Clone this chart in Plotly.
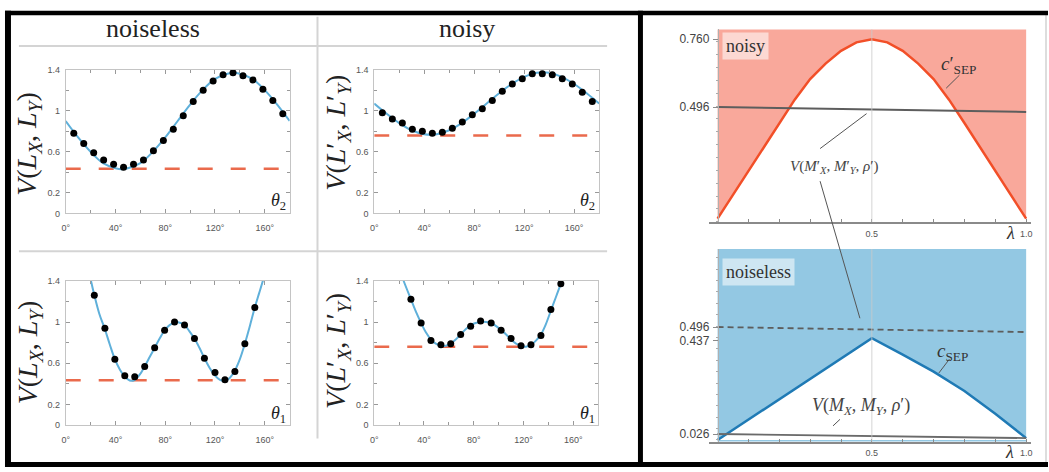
import plotly.graph_objects as go

W, H = 1049, 472

# ---------------- data ----------------
# left panel: V versus measurement angle
theta_dots_top = [6.5, 14.5, 22.5, 30.5, 38.5, 46.5, 54.5, 62.5, 70.5, 78.5, 86.5,
                  94.5, 102.5, 110.5, 118.5, 126.5, 134.5, 142.5, 150.5, 158.5, 166.5, 174.5]
noiseless_t2_dots = [0.78, 0.68, 0.59, 0.52, 0.48, 0.45, 0.48, 0.52, 0.61, 0.71, 0.82,
                     0.95, 1.09, 1.20, 1.29, 1.35, 1.37, 1.34, 1.30, 1.21, 1.10, 0.97]
noisy_t2_dots = [0.98, 0.92, 0.88, 0.82, 0.80, 0.78, 0.79, 0.83, 0.89, 0.96, 1.02,
                 1.10, 1.19, 1.26, 1.31, 1.36, 1.36, 1.35, 1.31, 1.26, 1.18, 1.09]
theta_curve_top = [0, 10, 20, 30, 40, 45, 50, 60, 70, 80, 90, 100, 110, 120, 130, 135,
                   140, 150, 160, 170, 180]
noiseless_t2_curve = [0.90, 0.74, 0.60, 0.49, 0.44, 0.43, 0.44, 0.49, 0.60, 0.74, 0.90,
                      1.06, 1.20, 1.31, 1.36, 1.37, 1.36, 1.31, 1.20, 1.06, 0.90]
noisy_t2_curve = [1.07, 0.97, 0.88, 0.81, 0.77, 0.765, 0.77, 0.81, 0.88, 0.97, 1.07,
                  1.17, 1.26, 1.33, 1.37, 1.375, 1.37, 1.33, 1.26, 1.17, 1.07]

theta_dots_bl = [23, 31.5, 39.5, 47.5, 55.5, 63.5, 71.5, 79.5, 87.5, 95.5, 103.5,
                 111.5, 120, 128, 136, 144, 152]
noiseless_t1_dots = [1.26, 0.94, 0.64, 0.48, 0.47, 0.57, 0.75, 0.92, 1.00, 0.97, 0.84,
                     0.65, 0.51, 0.44, 0.52, 0.79, 1.14]
theta_curve_bl = [17, 20.3, 23, 27, 31.5, 35.5, 39.5, 43.5, 47.5, 52.5, 55.5, 59.5, 63.5,
                  67.5, 71.5, 75.5, 79.5, 83.5, 88.5, 92.5, 95.5, 99.5, 103.5, 107.5,
                  111.5, 115.5, 120, 124, 128.5, 132, 136, 140, 144, 148, 152, 155.5,
                  158.5, 162]
noiseless_t1_curve = [1.58, 1.40, 1.26, 1.08, 0.93, 0.78, 0.64, 0.54, 0.47, 0.43, 0.44,
                      0.49, 0.57, 0.66, 0.75, 0.84, 0.92, 0.97, 1.00, 0.99, 0.97, 0.91,
                      0.84, 0.75, 0.65, 0.56, 0.48, 0.44, 0.43, 0.46, 0.53, 0.64, 0.79,
                      0.96, 1.14, 1.28, 1.40, 1.55]

theta_dots_br = [29.5, 37.7, 45.6, 53.6, 61.5, 69.5, 77.5, 85.5, 94, 102, 110, 118,
                 126, 134, 142, 150]
noisy_t1_dots = [1.22, 0.99, 0.82, 0.78, 0.79, 0.88, 0.96, 1.01, 0.99, 0.92, 0.84, 0.77,
                 0.78, 0.87, 1.12, 1.37]
theta_curve_br = [20, 23.6, 29.5, 33.5, 37.7, 41.5, 45.6, 49.5, 53.6, 57.5, 61.5, 65.5,
                  69.5, 73.5, 77.5, 81.5, 85.5, 90, 94, 98, 102, 106, 110, 114, 118,
                  122, 126, 130, 134, 138, 142, 146, 150, 153]
noisy_t1_curve = [1.52, 1.40, 1.22, 1.10, 0.99, 0.90, 0.83, 0.79, 0.77, 0.77, 0.79, 0.83,
                  0.88, 0.93, 0.97, 0.99, 1.00, 1.00, 0.99, 0.96, 0.92, 0.88, 0.83, 0.79,
                  0.77, 0.76, 0.78, 0.82, 0.88, 0.98, 1.11, 1.24, 1.37, 1.47]

min_noiseless = 0.435
min_noisy = 0.76
dash_span = [0, 176]

theta_ticks = [0, 40, 80, 120, 160]
theta_ticktext = ["0°", "40°", "80°", "120°", "160°"]
v_ticks = [0, 0.2, 0.6, 1.0, 1.4]
v_ticktext = ["0", "0.2", "0.6", "1", "1.4"]

# right panel: versus lambda
lam = [0, 0.05, 0.1, 0.15, 0.2, 0.25, 0.3, 0.35, 0.4, 0.45, 0.5,
       0.55, 0.6, 0.65, 0.7, 0.75, 0.8, 0.85, 0.9, 0.95, 1.0]
c_sep_noisy = [0.062, 0.155, 0.248, 0.341, 0.434, 0.525, 0.605, 0.665, 0.715, 0.748, 0.760,
               0.748, 0.715, 0.665, 0.605, 0.525, 0.434, 0.341, 0.248, 0.155, 0.062]
lam_ends = [0, 1]
v_noisy = [0.496, 0.477]
lam_blue = [0, 0.25, 0.5, 0.6, 0.7, 0.8, 0.9, 1.0]
c_sep = [0.0, 0.224, 0.447, 0.375, 0.300, 0.215, 0.115, 0.008]
v_noiseless = [0.026, 0.008]
v_noisy_ref = [0.496, 0.474]

top_ticks = [0.496, 0.760]
bot_ticks = [0.026, 0.437, 0.496]

# ---------------- helpers ----------------
def X(px):
    return px / W


def Y(py):
    return 1 - py / H


SERIF = "Liberation Serif"
SANS = "Liberation Sans"
DOT = dict(size=7, color="black")
BLUE_L = "#5fb0da"
RED_D = "#ea6a4c"

fig = go.Figure()

panels = [
    ("x", "y", theta_curve_top, noiseless_t2_curve, theta_dots_top, noiseless_t2_dots, min_noiseless),
    ("x2", "y2", theta_curve_top, noisy_t2_curve, theta_dots_top, noisy_t2_dots, min_noisy),
    ("x3", "y3", theta_curve_bl, noiseless_t1_curve, theta_dots_bl, noiseless_t1_dots, min_noiseless),
    ("x4", "y4", theta_curve_br, noisy_t1_curve, theta_dots_br, noisy_t1_dots, min_noisy),
]
for xa, ya, tc, vc, td, vd, vmin in panels:
    fig.add_trace(go.Scatter(x=dash_span, y=[vmin, vmin], xaxis=xa, yaxis=ya, mode="lines",
                             line=dict(color=RED_D, width=2.5, dash="15px,18px"),
                             hoverinfo="skip", showlegend=False))
    fig.add_trace(go.Scatter(x=tc, y=vc, xaxis=xa, yaxis=ya, mode="lines",
                             line=dict(color=BLUE_L, width=2, shape="spline"),
                             showlegend=False))
    fig.add_trace(go.Scatter(x=td, y=vd, xaxis=xa, yaxis=ya, mode="markers",
                             marker=DOT, showlegend=False))

# right panel traces
fig.add_trace(go.Scatter(x=lam, y=c_sep_noisy, xaxis="x5", yaxis="y5", mode="lines",
                         fill="tozeroy", fillcolor="white",
                         line=dict(color="#f24f28", width=2.5), showlegend=False))
fig.add_trace(go.Scatter(x=lam_ends, y=v_noisy, xaxis="x5", yaxis="y5", mode="lines",
                         line=dict(color="#5d5d5d", width=2), showlegend=False))
fig.add_trace(go.Scatter(x=lam_blue, y=c_sep, xaxis="x6", yaxis="y6", mode="lines",
                         fill="tozeroy", fillcolor="white",
                         line=dict(color="#1f7ab5", width=2.5), showlegend=False))
fig.add_trace(go.Scatter(x=lam_ends, y=v_noisy_ref, xaxis="x6", yaxis="y6", mode="lines",
                         line=dict(color="#5d5d5d", width=1.8, dash="6px,4px"), showlegend=False))
fig.add_trace(go.Scatter(x=lam_ends, y=v_noiseless, xaxis="x6", yaxis="y6", mode="lines",
                         line=dict(color="#6a6a6a", width=1.8), showlegend=False))

# ---------------- axes ----------------
tickfont_small = dict(family=SANS, size=9, color="#555")


def left_x(dom, anchor):
    return dict(domain=dom, anchor=anchor, range=[0, 180], tickmode="array",
                tickvals=theta_ticks, ticktext=theta_ticktext, ticks="inside", ticklen=4,
                tickcolor="#999", showline=True, linecolor="#c4c4c4", linewidth=1,
                mirror="ticks", showgrid=False, zeroline=False, tickfont=tickfont_small,
                ticklabelstandoff=6,
                minor=dict(tickvals=[20, 60, 100, 140], ticks="inside", ticklen=3,
                           tickcolor="#999"))


def left_y(dom, anchor):
    return dict(domain=dom, anchor=anchor, range=[0, 1.4], tickmode="array",
                tickvals=v_ticks, ticktext=v_ticktext, ticks="inside", ticklen=4,
                tickcolor="#999", showline=True, linecolor="#c4c4c4", linewidth=1,
                mirror="ticks", showgrid=False, zeroline=False, tickfont=tickfont_small,
                ticklabelstandoff=3,
                minor=dict(tickvals=[0.4, 0.8, 1.2], ticks="inside", ticklen=3,
                           tickcolor="#999"))


def right_x(anchor):
    return dict(domain=[X(708), X(1032)], anchor=anchor, range=[-0.029, 1.016],
                tickmode="array", tickvals=[0.5, 1.0], ticktext=["0.5", "1.0"],
                ticks="", showline=True, linecolor="#8a8a8a", linewidth=1.5,
                showgrid=False, zeroline=False, tickfont=tickfont_small,
                ticklabelstandoff=2,
                minor=dict(tickvals=[0.1, 0.2, 0.3, 0.4, 0.5, 0.6, 0.7, 0.8, 0.9, 1.0],
                           ticks="inside", ticklen=3, tickcolor="#8a8a8a"))


def right_y(dom, rng, tv):
    return dict(domain=dom, anchor="free", position=X(717.3), range=rng,
                tickmode="array", tickvals=tv, ticktext=["%.3f" % v for v in tv],
                ticks="outside", ticklen=5, tickcolor="#8a8a8a", showline=True,
                linecolor="#b0b0b0", linewidth=1, showgrid=False, zeroline=False,
                tickfont=dict(family=SANS, size=12, color="#444"), ticklabelstandoff=1,
                minor=dict(dtick=0.05, tick0=0, ticks="outside", ticklen=2,
                           tickcolor="#aaa"))


fig.update_layout(
    width=W, height=H, margin=dict(l=0, r=0, t=0, b=0),
    paper_bgcolor="white", plot_bgcolor="white", showlegend=False,
    xaxis=left_x([X(62), X(287)], "y"),
    yaxis=left_y([Y(213), Y(66)], "x"),
    xaxis2=left_x([X(372), X(598)], "y2"),
    yaxis2=left_y([Y(213), Y(66)], "x2"),
    xaxis3=left_x([X(62), X(287)], "y3"),
    yaxis3=left_y([Y(429.3), Y(281.7)], "x3"),
    xaxis4=left_x([X(372), X(597)], "y4"),
    yaxis4=left_y([Y(429.3), Y(281.7)], "x4"),
    xaxis5=right_x("y5"),
    yaxis5=right_y([Y(221.7), Y(25)], [0.049, 0.798], top_ticks),
    xaxis6=right_x("y6"),
    yaxis6=right_y([Y(446), Y(249.3)], [-0.0071, 0.8386], bot_ticks),
)

# ---------------- shapes ----------------
shapes = []
# coloured regions of the right panel
shapes.append(dict(type="rect", xref="x5", yref="y5 domain", x0=0, x1=1, y0=0, y1=1,
                   fillcolor="#f9a89b", line=dict(width=0), layer="below"))
shapes.append(dict(type="rect", xref="x6", yref="y6 domain", x0=0, x1=1, y0=0, y1=1,
                   fillcolor="#93c8e3", line=dict(width=0), layer="below"))
# light grid line at lambda = 0.5
for xr, yr in (("x5", "y5 domain"), ("x6", "y6 domain")):
    shapes.append(dict(type="line", xref=xr, yref=yr, x0=0.5, x1=0.5, y0=0, y1=1,
                       line=dict(color="rgba(200,200,200,0.8)", width=1), layer="above"))


def pline(x0, y0, x1, y1, color, width):
    return dict(type="line", xref="paper", yref="paper", x0=X(x0), y0=Y(y0), x1=X(x1),
                y1=Y(y1), line=dict(color=color, width=width), layer="above")


# pointer lines
shapes += [
    pline(960, 71.7, 946.7, 85, "#555", 1),
    pline(820, 146.7, 866.7, 111, "#555", 1),
    pline(820, 180, 860, 320, "#555", 1),
    pline(950, 361.7, 939.3, 376, "#555", 1),
    pline(840, 423.3, 833, 430, "#555", 1),
]
# grey separators of the left panel
shapes += [
    pline(15, 42, 606, 42, "#d4d4d4", 2),
    pline(15, 251.7, 606, 251.7, "#d4d4d4", 2),
    pline(315, 12, 315, 443, "#d4d4d4", 2),
    pline(1047, 10, 1047, 467, "#bbbbbb", 1),
]


def prect(x0, y0, x1, y1, color):
    return dict(type="rect", xref="paper", yref="paper", x0=X(x0), y0=Y(y1), x1=X(x1),
                y1=Y(y0), fillcolor=color, line=dict(width=0), layer="above")


# black frame
shapes += [
    prect(1, 6, 1049, 10.5, "black"),
    prect(1, 6, 7, 472, "black"),
    prect(637, 6, 642, 472, "black"),
    prect(1, 467, 1049, 472, "black"),
]
fig.update_layout(shapes=shapes)

# ---------------- text ----------------
ann = []


def text(px, py, s, size, family=SERIF, color="#222", angle=0, xanchor="center",
         yanchor="middle", bg=None, pad=1):
    d = dict(xref="paper", yref="paper", x=X(px), y=Y(py), text=s, showarrow=False,
             font=dict(family=family, size=size, color=color), textangle=angle,
             xanchor=xanchor, yanchor=yanchor, borderpad=pad)
    if bg:
        d["bgcolor"] = bg
    ann.append(d)


text(150, 24, "noiseless", 26)
text(465, 24, "noisy", 26)

lab_noiseless = "<i>V</i>(<i>L</i><sub><i>X</i></sub>, <i>L</i><sub><i>Y</i></sub>)"
lab_noisy = "<i>V</i>(<i>L</i>′<sub><i>X</i></sub>, <i>L</i>′<sub><i>Y</i></sub>)"
text(25, 142, lab_noiseless, 28, angle=-90)
text(335, 130, lab_noisy, 28, angle=-90)
text(26, 355, lab_noiseless, 28, angle=-90)
text(335, 353, lab_noisy, 28, angle=-90)

text(276, 201, "<i>θ</i><sub>2</sub>", 18)
text(586, 201, "<i>θ</i><sub>2</sub>", 18)
text(276, 418, "<i>θ</i><sub>1</sub>", 18)
text(586, 418, "<i>θ</i><sub>1</sub>", 18)

# right panel labels
text(721, 42, "noisy", 18, color="#333", xanchor="left", bg="rgba(255,255,255,0.55)", pad=3)
text(721, 273, "noiseless", 18, color="#333", xanchor="left", bg="rgba(255,255,255,0.55)", pad=3)
text(960, 61, "<i>c</i>′<sub>SEP</sub>", 19, color="#333")
text(953, 354, "<i>c</i><sub>SEP</sub>", 19, color="#333")
text(834, 166, "<i>V</i>(<i>M</i>′<sub><i>X</i></sub>, <i>M</i>′<sub><i>Y</i></sub>, <i>ρ</i>′)",
     15, color="#444")
text(861, 410, "<i>V</i>(<i>M</i><sub><i>X</i></sub>, <i>M</i><sub><i>Y</i></sub>, <i>ρ</i>′)",
     18, color="#444")
text(1011, 233, "<i>λ</i>", 18, color="#333")
text(1010, 457, "<i>λ</i>", 18, color="#333")

fig.update_layout(annotations=ann)

fig.write_html(
    "out.html",
    config={"displayModeBar": False},
    post_script="document.body.style.margin='0px';document.body.style.overflow='hidden';",
)
